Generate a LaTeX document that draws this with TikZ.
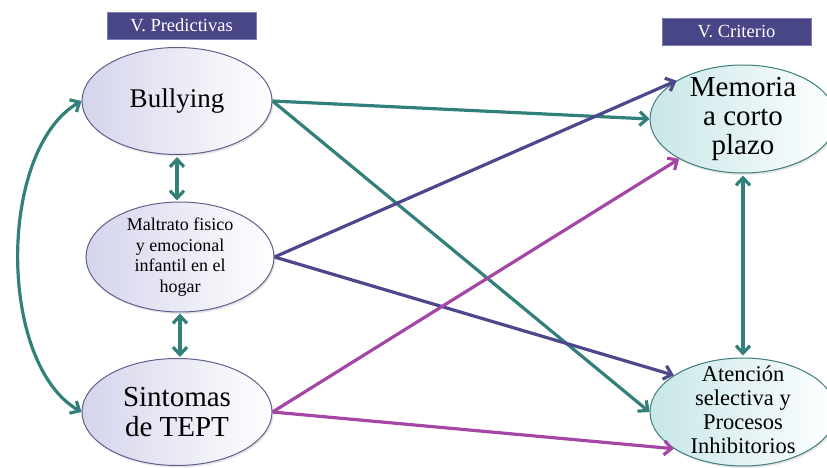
\documentclass[tikz,border=0pt]{standalone}
\usepackage{fontspec}
\setmainfont{Liberation Serif}
\usetikzlibrary{shapes.geometric,arrows.meta,shadows}
\definecolor{linkteal}{RGB}{49,128,122}
\definecolor{linkblue}{RGB}{76,72,140}
\definecolor{linkpink}{RGB}{165,70,165}
\definecolor{headfill}{RGB}{72,70,135}
\definecolor{headline}{RGB}{125,125,175}
\definecolor{predline}{RGB}{95,95,140}
\definecolor{predfill}{RGB}{212,212,236}
\definecolor{critline}{RGB}{60,125,120}
\definecolor{critfill}{RGB}{200,230,232}
\begin{document}
\begin{tikzpicture}[x=1pt,y=-1pt,
    predvar/.style={ellipse,draw=predline,line width=1pt,left color=predfill,right color=white,
        minimum width=190pt,minimum height=107pt,inner sep=0pt,
        drop shadow={opacity=0.2,shadow xshift=1.5pt,shadow yshift=-2pt}},
    critvar/.style={ellipse,draw=critline,line width=1pt,left color=critfill,right color=white,
        minimum width=186pt,minimum height=108pt,inner sep=0pt,
        drop shadow={opacity=0.2,shadow xshift=1.5pt,shadow yshift=-2pt}},
    bigtxt/.style={align=center,font=\fontsize{29}{30}\selectfont},
    midtxt/.style={align=center,font=\fontsize{22.5}{24}\selectfont},
    smalltxt/.style={align=center,font=\fontsize{18}{20.5}\selectfont},
    headbox/.style={draw=headline,fill=headfill,text=white,minimum width=149pt,minimum height=27pt,
        inner sep=0pt,font=\fontsize{18.5}{20}\selectfont},
    effect/.style={line width=3.2pt,-{Straight Barb[length=7.5pt,width=14pt]}},
    assoc/.style={line width=3.2pt,{Straight Barb[length=7.5pt,width=14pt]}-{Straight Barb[length=7.5pt,width=14pt]},linkteal}
]
\useasboundingbox (0,0) rectangle (827,468);

% cabeceras
\node[headbox] (predhead) at (181.5,25.5) {V. Predictivas};
\node[headbox] (crithead) at (736.5,31.5) {V. Criterio};

% variables predictivas
\node[predvar] (bully) at (177,101) {};
\node[bigtxt,font=\fontsize{27}{30}\selectfont] (bullytxt) at (bully.center) {Bullying};
\node[predvar,minimum width=188pt,minimum height=110pt] (maltr) at (180,257) {};
\node[smalltxt] (maltrtxt) at (maltr.center) {Maltrato fisico\\y emocional\\infantil en el\\hogar};
\node[predvar] (tept) at (177,412) {};
\node[bigtxt] (tepttxt) at (tept.center) {Sintomas\\de TEPT};

% variables criterio
\node[critvar] (memo) at (743,119) {};
\node[bigtxt,font=\fontsize{29}{29}\selectfont] (memotxt) at (memo.center) {Memoria\\a corto\\plazo};
\node[critvar] (atenc) at (743,412) {};
\node[midtxt] (atenctxt) at ([yshift=2pt]atenc.center) {Atención\\selectiva y\\Procesos\\Inhibitorios};

% efectos
\draw[effect,linkteal] (bully.east) -- (memo.west);
\draw[effect,linkteal] (bully.east) -- (atenc.west);
\draw[effect,linkblue] (maltr.east) -- (memo.150);
\draw[effect,linkblue] (maltr.east) -- (atenc.152);
\draw[effect,linkpink] (tept.east) -- (memo.212);
\draw[effect,linkpink] (tept.east) -- (atenc.208);

% covarianzas
\draw[assoc,shorten <=2pt,shorten >=1pt] (bully.south) -- (bully.south |- maltr.north);
\draw[assoc,shorten <=1pt,shorten >=1pt] (maltr.south) -- (maltr.south |- tept.north);
\draw[assoc,shorten <=2pt,shorten >=2pt] (memo.south) -- (atenc.north);
\draw[assoc] (tept.west) to[out=150,in=210,looseness=0.8] (bully.west);
\end{tikzpicture}
\end{document}
